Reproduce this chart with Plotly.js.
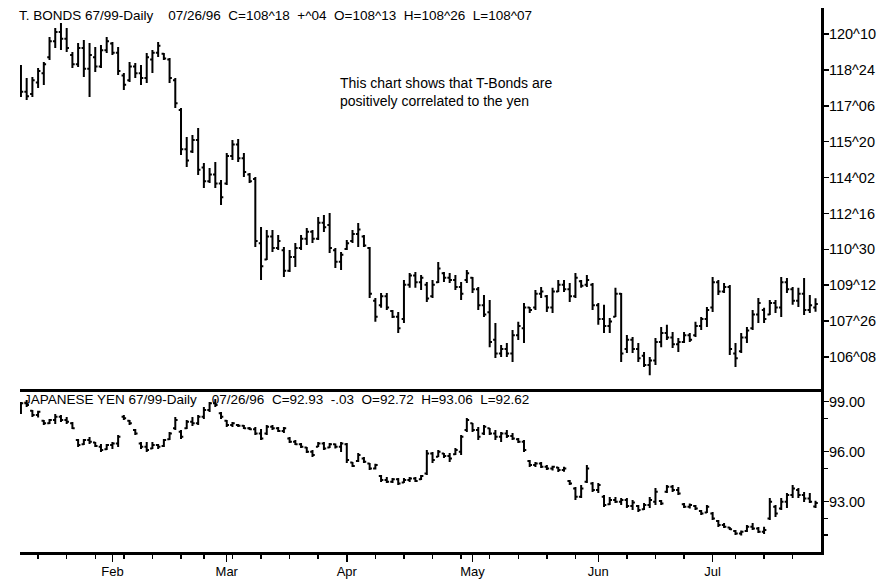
<!DOCTYPE html>
<html>
<head>
<meta charset="utf-8">
<script src="https://cdn.plot.ly/plotly-3.0.1.min.js"></script>
<style>
html,body{margin:0;padding:0;background:#fff;}
#chart{width:895px;height:579px;}
</style>
</head>
<body>
<div id="chart"></div>
<script>
// ---- calendar ----
const firstDay = '1996-01-10';
const lastDay = '1996-07-26';
const holidays = ['1996-02-19', '1996-05-27', '1996-07-04'];
const monthLabels = ['Feb', 'Mar', 'Apr', 'May', 'Jun', 'Jul'];
const monthStarts = ['1996-02-01', '1996-03-01', '1996-04-01', '1996-05-01', '1996-06-03', '1996-07-01'];

// ---- tick labels ----
const tbTickVals = [120.3125, 118.75, 117.1875, 115.625, 114.0625, 112.5, 110.9375, 109.375, 107.8125, 106.25];
const tbTickText = ['120^10', '118^24', '117^06', '115^20', '114^02', '112^16', '110^30', '109^12', '107^26', '106^08'];
const yenTickVals = [99, 96, 93];
const yenTickText = ['99.00', '96.00', '93.00'];
const yenMinorTicks = [98, 95, 92, 91];

// ---- T-Bonds daily OHLC ----
const tbOpen = [
118.90,117.80,117.70,118.20,118.60,119.30,120.00,120.40,120.10,119.40,
119.00,119.70,118.80,119.30,118.90,119.60,119.90,119.50,118.50,118.30,
118.90,118.60,118.40,119.20,119.50,119.45,119.20,118.30,117.00,115.30,
115.20,115.70,114.50,113.90,114.20,113.80,113.80,115.00,115.50,114.90,
114.20,114.00,111.20,110.50,111.50,111.00,110.90,110.00,110.60,111.00,
111.40,111.70,111.40,112.10,112.00,110.90,110.40,110.95,111.30,111.60,
111.50,111.00,108.70,108.50,108.90,108.25,108.00,107.90,109.40,109.80,
109.50,109.40,108.90,109.50,109.90,109.70,109.60,109.30,109.60,109.70,
109.20,108.50,108.20,107.00,106.40,106.60,106.40,107.20,107.50,108.40,
108.40,109.00,108.90,108.40,109.10,109.40,109.20,108.90,109.55,109.40,
109.40,108.50,107.90,107.60,108.00,109.00,106.60,107.00,106.60,106.30,
105.90,106.10,106.90,107.30,107.10,106.80,106.90,107.20,107.20,107.60,
107.90,108.40,109.50,109.10,109.30,106.40,106.50,107.10,107.50,108.10,
108.30,108.10,108.60,108.40,109.50,109.20,108.70,109.00,108.30,108.40625];
const tbHigh = [
118.96,118.40,118.44,118.83,119.09,120.18,120.57,120.79,120.57,119.53,
119.92,120.05,119.92,119.75,119.83,120.18,119.96,119.75,118.61,119.09,
119.05,118.96,119.49,119.62,119.96,119.49,119.27,118.40,117.09,115.83,
115.92,116.22,114.70,114.48,114.74,113.96,115.13,115.70,115.74,115.13,
114.26,114.09,111.91,111.78,111.78,111.56,111.04,110.91,111.21,111.56,
111.87,111.78,112.35,112.43,112.52,111.00,110.82,111.34,111.78,112.08,
111.56,111.04,108.82,109.04,109.04,108.30,108.21,109.60,109.91,109.95,
109.82,109.52,109.60,110.39,109.95,109.91,109.82,109.52,110.04,109.73,
109.30,108.95,108.73,107.73,106.77,106.86,107.43,107.78,108.60,108.43,
109.17,109.30,108.95,109.26,109.60,109.60,109.47,109.91,109.60,109.82,
109.47,108.60,108.52,107.95,109.26,109.04,107.21,107.12,106.86,106.47,
106.25,107.08,107.56,107.65,107.34,107.08,107.34,107.30,107.78,107.99,
108.43,109.73,109.60,109.47,109.39,106.86,107.30,107.56,108.30,108.82,
108.39,108.73,108.73,109.73,109.69,109.30,109.26,109.69,108.95,108.8125];
const tbLow = [
117.57,117.44,117.57,117.96,118.09,119.18,119.70,119.62,119.53,118.83,
118.88,118.44,117.57,118.66,118.83,119.49,119.40,118.53,117.87,118.22,
118.40,118.09,118.18,118.61,119.31,119.18,118.18,117.09,115.04,114.52,
115.13,114.17,113.61,113.83,113.61,112.87,113.74,114.83,114.74,114.09,
113.83,111.04,109.60,110.47,110.82,110.91,109.73,109.95,110.17,110.91,
111.13,111.21,111.34,111.69,110.78,110.13,110.04,110.91,111.21,111.04,
111.04,108.82,107.78,108.39,108.30,107.95,107.30,107.73,109.26,109.26,
109.17,108.65,108.82,109.47,109.52,109.47,109.17,108.73,109.47,109.04,
108.30,107.99,106.68,106.21,106.25,106.25,106.03,106.99,106.86,108.17,
108.30,108.82,108.21,108.17,109.08,109.08,108.65,108.82,109.26,109.30,
108.30,107.65,107.30,107.30,107.99,106.03,106.42,106.42,106.03,105.81,
105.46,105.90,106.68,106.99,106.64,106.47,106.86,106.90,107.12,107.43,
107.56,108.21,108.95,109.04,106.34,105.81,106.42,106.86,107.43,107.73,
107.73,108.08,108.17,107.99,109.04,108.52,108.43,108.08,108.17,108.21875];
const tbClose = [
117.80,117.60,118.30,118.70,119.00,120.00,120.40,120.10,119.70,119.00,
119.70,118.80,119.40,118.90,119.60,120.00,119.50,118.70,118.10,118.90,
118.60,118.40,119.30,119.50,119.80,119.25,118.40,117.30,115.30,114.80,
115.70,114.40,113.90,114.20,113.80,113.20,115.00,115.50,114.90,114.30,
113.90,111.30,110.20,111.50,111.00,111.30,110.00,110.60,111.00,111.40,
111.70,111.40,112.10,111.90,111.00,110.40,110.70,111.20,111.60,111.80,
111.10,109.00,108.00,108.90,108.40,108.00,107.50,109.40,109.80,109.50,
109.70,108.80,109.40,110.10,109.70,109.60,109.30,109.00,109.90,109.20,
108.50,108.10,106.90,106.40,106.60,106.40,107.20,107.60,108.40,108.30,
109.00,109.10,108.40,109.10,109.40,109.20,108.90,109.70,109.35,109.60,
108.50,107.90,107.60,107.80,109.00,106.40,107.00,106.60,106.20,105.90,
106.10,106.90,107.30,107.10,106.80,106.90,107.20,107.00,107.60,107.90,
108.30,109.50,109.10,109.30,106.60,106.20,107.10,107.40,108.10,108.60,
107.90,108.60,108.40,109.50,109.20,108.70,109.00,108.30,108.50,108.5625];

// ---- Japanese Yen daily OHLC ----
const yenOpen = [
98.40,98.90,98.45,98.20,97.85,97.70,97.90,98.10,97.90,97.70,
96.70,96.45,96.70,96.55,96.30,96.15,96.40,96.50,98.10,97.85,
97.30,96.50,96.30,96.20,96.40,96.35,96.75,97.40,97.20,97.40,
97.80,97.70,98.10,98.50,98.90,98.30,97.85,97.60,97.60,97.55,
97.40,97.35,97.10,97.10,97.50,97.40,97.25,96.80,96.60,96.45,
96.25,96.00,96.30,96.50,96.25,96.45,96.30,96.45,95.35,95.45,
95.60,95.30,95.00,94.55,94.30,94.20,94.35,94.15,94.30,94.40,
94.35,94.70,95.90,95.70,95.90,95.75,95.85,96.00,97.30,97.70,
97.30,97.10,97.40,97.10,96.90,97.10,96.95,96.75,96.60,95.45,
95.20,95.30,95.10,95.00,95.05,94.90,94.25,93.80,93.30,94.20,
94.10,93.70,93.30,92.85,93.10,93.00,93.10,92.75,92.75,92.55,
92.80,93.00,93.05,93.60,93.90,93.70,92.85,92.70,92.75,92.45,
92.35,92.30,91.85,91.60,91.45,91.25,91.10,91.25,91.50,91.40,
91.20,92.00,92.70,92.60,93.00,93.40,93.70,93.40,93.20,92.72];
const yenHigh = [
98.98,99.10,98.50,98.45,97.90,97.96,98.26,98.20,98.08,97.78,
96.76,96.76,96.88,96.58,96.46,96.46,96.58,97.00,98.20,97.90,
97.36,96.58,96.58,96.58,96.46,96.76,97.18,98.08,97.30,97.90,
98.08,98.20,98.68,98.98,99.16,98.38,97.90,97.78,97.66,97.60,
97.48,97.48,97.36,97.60,97.60,97.48,97.48,96.88,96.70,96.52,
96.28,96.10,96.58,96.58,96.52,96.50,96.58,96.52,95.38,95.92,
95.68,95.32,95.28,94.60,94.48,94.42,94.42,94.42,94.48,94.48,
94.60,96.10,95.98,96.10,95.92,95.92,96.22,97.00,98.02,97.72,
97.48,97.60,97.42,97.30,97.18,97.30,97.12,96.82,96.70,95.50,
95.38,95.38,95.20,95.16,95.08,95.10,94.30,93.88,94.00,95.20,
94.18,94.12,93.40,93.28,93.28,93.22,93.22,93.10,92.80,92.92,
93.28,93.82,93.10,94.00,94.00,93.88,92.92,92.90,92.80,92.50,
92.80,92.38,91.90,91.72,91.48,91.30,91.28,91.60,91.72,91.48,
91.50,93.22,92.80,93.22,93.52,94.00,93.82,93.58,93.52,93.06];
const yenLow = [
98.26,98.68,98.08,98.05,97.60,97.66,97.66,97.78,97.66,97.36,
96.28,96.40,96.46,96.28,95.98,96.10,96.16,96.28,97.90,97.60,
97.00,96.16,95.98,96.16,96.16,96.28,96.70,97.30,96.76,97.36,
97.54,97.60,97.96,98.38,98.68,97.96,97.48,97.48,97.48,97.36,
97.30,97.00,96.70,97.00,97.30,97.18,97.12,96.52,96.40,96.22,
95.92,95.68,96.28,96.10,96.22,96.20,95.98,95.32,95.08,95.38,
95.32,94.90,94.94,94.18,94.12,94.12,94.00,94.12,94.18,94.18,
94.30,94.60,95.32,95.68,95.62,95.38,95.80,95.80,97.18,97.18,
96.70,97.00,97.00,96.70,96.58,96.82,96.70,96.52,95.98,95.08,
95.08,95.02,94.90,94.88,94.78,94.80,94.00,93.10,93.22,94.12,
93.58,93.52,92.68,92.80,92.92,92.80,92.62,92.50,92.38,92.50,
92.62,92.80,92.80,93.52,93.58,93.40,92.62,92.60,92.50,92.20,
92.32,91.90,91.48,91.42,91.30,91.00,90.98,91.18,91.30,91.12,
91.06,91.90,92.08,92.50,92.62,93.22,93.22,92.98,92.92,92.62];
const yenClose = [
98.90,98.80,98.20,98.40,97.70,97.90,98.10,97.90,97.80,97.40,
96.40,96.70,96.60,96.35,96.10,96.40,96.50,96.90,98.00,97.70,
97.10,96.30,96.10,96.40,96.30,96.70,97.10,97.90,96.90,97.80,
97.70,98.10,98.50,98.90,98.80,98.10,97.60,97.70,97.55,97.40,
97.35,97.10,96.80,97.50,97.40,97.25,97.40,96.60,96.45,96.30,
96.00,95.80,96.50,96.20,96.45,96.30,96.50,95.50,95.15,95.80,
95.40,95.00,95.20,94.30,94.20,94.35,94.10,94.30,94.40,94.25,
94.55,95.90,95.50,96.00,95.75,95.60,96.10,96.90,97.90,97.30,
96.90,97.50,97.10,96.90,97.10,96.95,96.80,96.60,96.10,95.20,
95.30,95.10,95.00,95.10,94.90,95.00,94.10,93.30,93.80,95.00,
93.70,94.00,92.80,93.10,93.00,93.10,92.75,92.95,92.50,92.80,
93.10,93.60,92.90,93.90,93.70,93.50,92.70,92.80,92.60,92.30,
92.70,92.00,91.60,91.50,91.35,91.10,91.20,91.50,91.40,91.20,
91.30,93.00,92.30,93.00,93.40,93.80,93.40,93.20,93.00,92.93];

// ---- texts ----
const sp = n => '\u00a0'.repeat(n);
const tbHeader = 'T. BONDS 67/99-Daily' + sp(4) + '07/26/96' + sp(2) + 'C=108^18' + sp(2) + '+^04' + sp(2) + 'O=108^13' + sp(2) + 'H=108^26' + sp(2) + 'L=108^07';
const yenHeader = 'JAPANESE YEN 67/99-Daily' + sp(4) + '07/26/96' + sp(2) + 'C=92.93' + sp(2) + '-.03' + sp(2) + 'O=92.72' + sp(2) + 'H=93.06' + sp(2) + 'L=92.62';
const noteLines = ['This chart shows that T-Bonds are', 'positively correlated to the yen'];

// ---- trading calendar (weekdays minus exchange holidays) ----
function tradingDays(a, b, skip) {
  const out = [];
  const d = new Date(a + 'T00:00:00Z');
  const end = new Date(b + 'T00:00:00Z');
  while (d <= end) {
    const dow = d.getUTCDay();
    const s = d.toISOString().slice(0, 10);
    if (dow !== 0 && dow !== 6 && skip.indexOf(s) < 0) out.push(s);
    d.setUTCDate(d.getUTCDate() + 1);
  }
  return out;
}
const dates = tradingDays(firstDay, lastDay, holidays);
// first trading day of each full week -> minor ticks
const weekStarts = [];
for (let i = 1; i < dates.length; i++) {
  const a = new Date(dates[i - 1] + 'T00:00:00Z').getUTCDay();
  const b = new Date(dates[i] + 'T00:00:00Z').getUTCDay();
  if (b < a) weekStarts.push(dates[i]);
}

const FONT = 'Liberation Sans, Arial, Helvetica, sans-serif';
const breaks = [{bounds: ['sat', 'mon']}, {values: holidays}];
const xRange = ['1996-01-09 20:00:00', '1996-07-26 23:00:00'];
const split = 163 / 544;

const barStyle = {line: {color: '#000', width: 2}};
const traces = [
  {type: 'ohlc', name: 'T-Bonds', x: dates, open: tbOpen, high: tbHigh, low: tbLow, close: tbClose,
   xaxis: 'x2', yaxis: 'y', increasing: barStyle, decreasing: barStyle, tickwidth: 0.4},
  {type: 'ohlc', name: 'Japanese Yen', x: dates, open: yenOpen, high: yenHigh, low: yenLow, close: yenClose,
   xaxis: 'x', yaxis: 'y2', increasing: barStyle, decreasing: barStyle, tickwidth: 0.4}
];

const yCommon = {
  side: 'right', showline: true, linewidth: 3, linecolor: '#000', mirror: false,
  ticks: 'outside', ticklen: 5, tickwidth: 1.5, tickcolor: '#000',
  tickmode: 'array', showgrid: false, zeroline: false, fixedrange: true,
  ticklabelstandoff: -3,
  tickfont: {family: FONT, size: 14.5, color: '#000'}
};

const layout = {
  width: 895, height: 579,
  margin: {l: 20, r: 74, t: 8, b: 27, pad: 0},
  paper_bgcolor: '#fff', plot_bgcolor: '#fff',
  showlegend: false,
  font: {family: FONT, color: '#000', size: 13},
  title: {text: tbHeader, font: {family: FONT, size: 13.5, color: '#000'},
          x: 19 / 895, xanchor: 'left', xref: 'container',
          y: 1 - 15 / 579, yanchor: 'middle', yref: 'container'},
  xaxis: {
    type: 'date', anchor: 'y2', domain: [0, 1], range: xRange, rangebreaks: breaks,
    rangeslider: {visible: false}, fixedrange: true,
    showline: true, linewidth: 3, linecolor: '#000',
    ticks: 'outside', ticklen: 7, tickwidth: 1.5, tickcolor: '#000',
    tickmode: 'array', tickvals: monthStarts, ticktext: monthLabels,
    tickfont: {family: FONT, size: 13, color: '#000'},
    ticklabelstandoff: -2,
    showgrid: false, zeroline: false,
    minor: {tickmode: 'array', tickvals: weekStarts, ticks: 'outside', ticklen: 4,
            tickwidth: 1.5, tickcolor: '#000', showgrid: false}
  },
  xaxis2: {
    type: 'date', anchor: 'y', domain: [0, 1], matches: 'x', range: xRange, rangebreaks: breaks,
    rangeslider: {visible: false}, fixedrange: true,
    showticklabels: false, showline: true, linewidth: 3, linecolor: '#000',
    ticks: '', showgrid: false, zeroline: false
  },
  yaxis: Object.assign({}, yCommon, {
    domain: [split, 1], anchor: 'x2', range: [104.857, 121.444],
    tickvals: tbTickVals, ticktext: tbTickText
  }),
  yaxis2: Object.assign({}, yCommon, {
    domain: [0, split], anchor: 'x', range: [89.984, 99.762],
    tickvals: yenTickVals, ticktext: yenTickText,
    minor: {tickmode: 'array', tickvals: yenMinorTicks, ticks: 'outside', ticklen: 4,
            tickwidth: 1.5, tickcolor: '#000', showgrid: false}
  }),
  annotations: [
    {text: noteLines.join('<br>'), xref: 'paper', yref: 'paper', x: 318 / 801, y: (552 - 92.5) / 544,
     xanchor: 'left', yanchor: 'middle', align: 'left', showarrow: false,
     font: {family: FONT, size: 14, color: '#000'}},
    {text: yenHeader, xref: 'paper', yref: 'paper', x: 2 / 801, y: (552 - 399) / 544,
     xanchor: 'left', yanchor: 'middle', showarrow: false,
     font: {family: FONT, size: 13.5, color: '#000'}}
  ]
};

Plotly.newPlot('chart', traces, layout, {displayModeBar: false, staticPlot: true});
</script>
</body>
</html>
